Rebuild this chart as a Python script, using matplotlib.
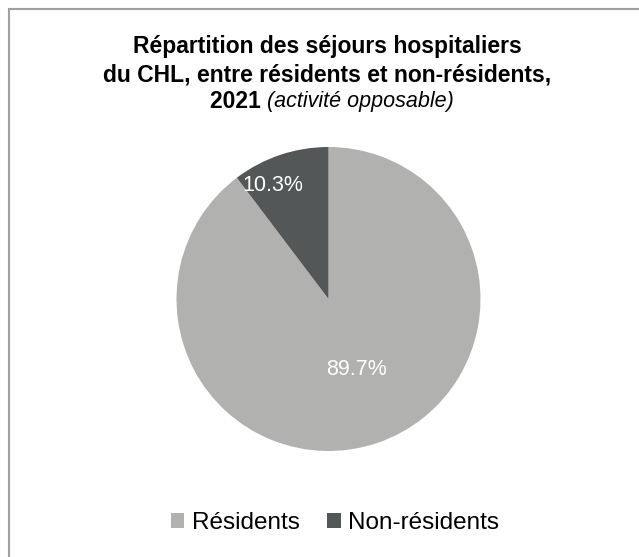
import numpy as np
import matplotlib
matplotlib.use("Agg")
import matplotlib.pyplot as plt
from matplotlib.patches import Rectangle

categories = ["Résidents", "Non-résidents"]
values = [89.7, 10.3]
colors = ["#b1b2af", "#545757"]

plt.rcParams['font.family'] = ['Liberation Sans', 'DejaVu Sans']

fig = plt.figure(figsize=(6.39, 5.57), dpi=100)
W, H = 639, 557

# border
fig.patches.append(Rectangle((9 / W, -0.1), 1.1, (H - 8.5) / H + 0.1, transform=fig.transFigure,
                             fill=False, edgecolor="#a0a0a0", linewidth=1.5))

# title
fs = 16.5
tcx = 327 / W
fig.text(tcx, 1 - 47 / H, "Répartition des séjours hospitaliers", ha="center", va="center",
         fontsize=fs, fontweight="bold")
fig.text(tcx, 1 - 75 / H, "du CHL, entre résidents et non-résidents,", ha="center", va="center",
         fontsize=fs, fontweight="bold")
ta = fig.text(0, 1 - 102 / H, "2021 ", ha="left", va="center", fontsize=fs, fontweight="bold")
tb = fig.text(0, 1 - 102 / H, "(activité opposable)", ha="left", va="center", fontsize=15.5,
              fontstyle="italic")
fig.canvas.draw()
rend = fig.canvas.get_renderer()
wa = ta.get_window_extent(rend).width
wb = tb.get_window_extent(rend).width
x0 = 332 - (wa + wb) / 2
ta.set_x(x0 / W)
tb.set_x((x0 + wa) / W)

cx, cy, r = 328.5, 299, 152
ax = fig.add_axes([(cx - r) / W, 1 - (cy + r) / H, 2 * r / W, 2 * r / H])
wedges, texts, autotexts = ax.pie(values, colors=colors, startangle=90, counterclock=False,
                                  autopct=lambda p: f"{p:.1f}%", pctdistance=0.83,
                                  textprops=dict(color="white", fontsize=15.5),
                                  wedgeprops=dict(linewidth=0))
ax.set_xlim(-1, 1)
ax.set_ylim(-1, 1)
ax.set_aspect("equal")
a0 = np.deg2rad(-68)
autotexts[0].set_position((0.5 * np.cos(a0), 0.5 * np.sin(a0)))
a1 = np.deg2rad(116)
autotexts[1].set_position((0.83 * np.cos(a1), 0.83 * np.sin(a1)))

leg = fig.legend(wedges, categories, loc="center", bbox_to_anchor=(335 / W, 1 - 523 / H),
                 ncol=2, frameon=False, fontsize=17.5, handlelength=0.55, handleheight=0.55,
                 handletextpad=0.3, columnspacing=1.15)

fig.savefig("out.png", dpi=100)
